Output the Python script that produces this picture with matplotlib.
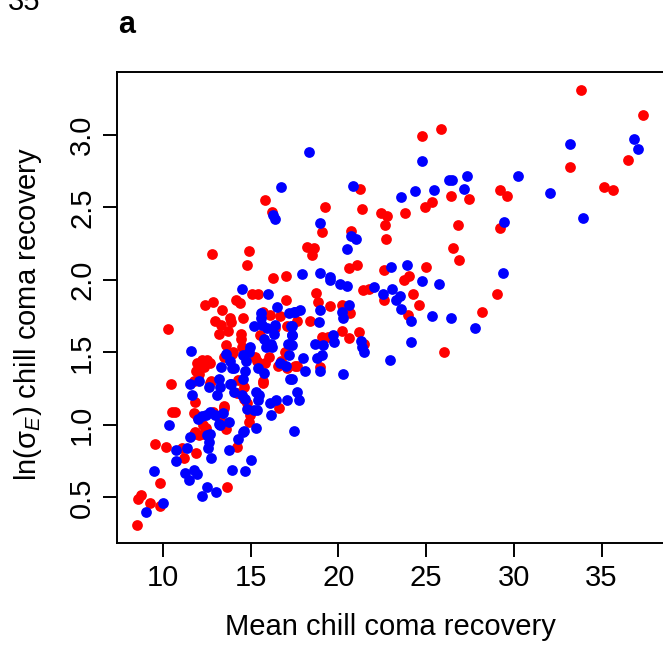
import matplotlib
matplotlib.use("Agg")
import matplotlib.pyplot as plt

plt.rcParams["font.family"] = ["Liberation Sans", "DejaVu Sans"]
plt.rcParams["mathtext.fontset"] = "custom"
plt.rcParams["mathtext.rm"] = "Liberation Sans"
plt.rcParams["mathtext.it"] = "Liberation Sans:italic"

# red group (mean, ln sigma_E)
red_x = [15.80, 16.21, 24.78, 25.83, 26.42, 27.46, 21.23, 25.35, 24.94, 19.22,
         21.35, 22.45, 22.75, 23.80, 22.67, 26.79, 20.70, 19.05, 33.81, 37.38,
         33.19, 36.49, 29.21, 29.61, 35.16, 35.67, 29.20, 29.06, 28.19, 22.71,
         18.19, 18.61, 18.51, 26.52, 26.86, 20.60, 21.08, 22.62, 25.01, 23.72,
         24.04, 21.38, 21.76, 22.58, 24.27, 24.57, 23.99, 18.72, 18.85, 19.54,
         20.19, 20.66, 18.38, 17.66, 20.22, 20.62, 21.19, 21.44, 19.08, 19.42,
         18.95, 17.66, 26.02, 8.52, 8.56, 8.76, 9.24, 9.81, 9.85, 9.52,
         10.19, 10.53, 10.70, 10.44, 11.10, 11.20, 11.88, 11.75, 12.04, 13.65,
         14.24, 11.84, 12.35, 12.43, 11.75, 11.96, 12.28, 12.85, 13.46, 13.27,
         13.59, 11.80, 11.79, 12.70, 13.50, 14.22, 14.62, 14.60, 14.81, 15.70,
         14.94, 14.90, 16.61, 12.81, 14.90, 14.77, 16.29, 17.00, 15.06, 15.44,
         17.01, 12.39, 12.85, 13.38, 14.16, 14.37, 15.68, 16.12, 16.69, 13.82,
         13.88, 12.96, 13.32, 14.58, 10.27, 13.19, 13.71, 16.37, 17.07, 14.43,
         15.55, 14.46, 14.50, 13.59, 13.93, 16.94, 16.03, 15.84, 15.25, 15.34,
         11.92, 12.21, 12.51, 12.66, 11.86, 12.03, 12.32, 13.50, 13.99, 16.54,
         17.07, 16.74, 17.53, 12.75, 14.26, 15.68]
red_y = [2.55, 2.47, 2.99, 3.04, 2.58, 2.56, 2.63, 2.54, 2.50, 2.50,
         2.49, 2.46, 2.44, 2.46, 2.38, 2.38, 2.34, 2.33, 3.31, 3.14,
         2.78, 2.83, 2.62, 2.58, 2.64, 2.62, 2.36, 1.90, 1.78, 2.28,
         2.23, 2.22, 2.17, 2.22, 2.14, 2.08, 2.10, 2.07, 2.09, 2.00,
         2.03, 1.93, 1.94, 1.86, 1.90, 1.83, 1.76, 1.91, 1.85, 1.82,
         1.83, 1.77, 1.72, 1.72, 1.65, 1.60, 1.64, 1.56, 1.61, 1.61,
         1.40, 1.41, 1.50, 0.31, 0.49, 0.52, 0.46, 0.44, 0.60, 0.87,
         0.85, 1.09, 1.09, 1.28, 0.84, 0.77, 0.81, 0.94, 0.93, 0.57,
         0.85, 0.95, 0.94, 0.98, 1.08, 1.06, 1.00, 1.09, 1.12, 1.04,
         0.97, 1.16, 1.30, 1.29, 1.13, 1.22, 1.26, 1.18, 1.15, 1.29,
         1.07, 1.02, 1.12, 2.18, 2.20, 2.10, 2.01, 2.03, 1.90, 1.90,
         1.86, 1.83, 1.85, 1.79, 1.86, 1.84, 1.78, 1.76, 1.75, 1.74,
         1.71, 1.72, 1.69, 1.74, 1.66, 1.63, 1.65, 1.67, 1.68, 1.63,
         1.62, 1.59, 1.54, 1.55, 1.49, 1.50, 1.47, 1.43, 1.47, 1.44,
         1.43, 1.45, 1.45, 1.43, 1.37, 1.35, 1.40, 1.47, 1.50, 1.41,
         1.39, 1.44, 1.41, 1.30, 1.31, 1.30]

# blue group
blue_x = [16.74, 16.25, 16.37, 18.34, 24.77, 26.29, 26.46, 27.33, 27.14, 20.83,
          23.57, 24.35, 25.47, 18.93, 33.22, 36.87, 37.08, 30.22, 32.08, 33.96,
          29.44, 29.40, 27.77, 20.70, 21.00, 20.51, 23.00, 23.91, 24.78, 25.72,
          17.92, 18.93, 19.52, 19.54, 20.07, 20.51, 22.05, 23.07, 22.54, 23.28,
          23.51, 23.55, 24.12, 25.34, 26.44, 18.97, 20.60, 20.22, 20.26, 18.89,
          17.81, 17.53, 17.34, 21.27, 21.35, 21.44, 19.69, 19.73, 18.65, 19.14,
          18.80, 19.08, 17.96, 18.08, 18.97, 20.28, 17.34, 22.92, 24.12, 17.37,
          17.34, 17.66, 17.75, 17.49, 9.03, 10.02, 9.50, 10.33, 10.74, 10.76,
          11.39, 11.54, 11.24, 11.48, 11.78, 11.96, 12.21, 12.53, 13.02, 13.93,
          14.68, 15.00, 12.74, 13.74, 14.26, 14.56, 12.58, 12.61, 12.51, 12.68,
          12.01, 12.21, 12.45, 12.66, 12.98, 13.18, 13.42, 13.27, 13.74, 11.63,
          11.55, 12.04, 12.64, 13.08, 13.27, 13.89, 14.03, 14.50, 14.69, 15.32,
          15.49, 15.40, 14.79, 15.17, 15.34, 15.32, 14.62, 16.12, 16.46, 16.17,
          17.07, 14.52, 15.99, 16.50, 17.16, 17.48, 15.59, 15.59, 15.17, 15.66,
          15.95, 16.37, 16.33, 17.30, 17.35, 15.76, 16.16, 15.86, 16.19, 11.60,
          13.57, 14.98, 14.89, 17.14, 17.20, 14.56, 14.75, 14.69, 13.32, 13.84,
          13.93, 14.03, 15.42, 15.76, 16.65, 17.00, 17.24, 13.21, 13.84, 14.56]
blue_y = [2.64, 2.45, 2.42, 2.88, 2.82, 2.69, 2.69, 2.72, 2.63, 2.65,
          2.57, 2.61, 2.62, 2.39, 2.94, 2.97, 2.90, 2.72, 2.60, 2.43,
          2.40, 2.05, 1.67, 2.30, 2.28, 2.21, 2.09, 2.10, 1.99, 1.97,
          2.04, 2.05, 2.02, 2.00, 1.97, 1.96, 1.95, 1.94, 1.90, 1.86,
          1.89, 1.80, 1.72, 1.75, 1.74, 1.79, 1.83, 1.78, 1.74, 1.71,
          1.79, 1.78, 1.68, 1.58, 1.54, 1.50, 1.62, 1.57, 1.56, 1.55,
          1.46, 1.48, 1.46, 1.37, 1.37, 1.35, 1.32, 1.45, 1.57, 1.62,
          1.55, 1.23, 1.17, 0.96, 0.40, 0.46, 0.68, 1.00, 0.83, 0.75,
          0.84, 0.92, 0.67, 0.62, 0.69, 0.66, 0.51, 0.57, 0.54, 0.69,
          0.68, 0.76, 0.77, 0.83, 0.90, 0.95, 0.84, 0.88, 0.93, 0.94,
          1.04, 1.06, 1.07, 1.09, 1.07, 1.01, 1.08, 1.00, 1.02, 1.21,
          1.28, 1.30, 1.26, 1.21, 1.26, 1.28, 1.23, 1.21, 1.18, 1.23,
          1.21, 1.17, 1.11, 1.10, 1.10, 0.98, 0.96, 1.15, 1.17, 1.07,
          1.17, 1.94, 1.90, 1.81, 1.77, 1.78, 1.77, 1.74, 1.68, 1.69,
          1.67, 1.69, 1.63, 1.68, 1.62, 1.59, 1.56, 1.54, 1.54, 1.51,
          1.49, 1.54, 1.50, 1.56, 1.48, 1.48, 1.44, 1.37, 1.40, 1.44,
          1.39, 1.39, 1.39, 1.36, 1.43, 1.41, 1.32, 1.32, 1.28, 1.32]

x_ticks = [10, 15, 20, 25, 30, 35]
y_ticks = [0.5, 1.0, 1.5, 2.0, 2.5, 3.0]
y_tick_labels = ["0.5", "1.0", "1.5", "2.0", "2.5", "3.0"]

W, H = 663, 645
fig = plt.figure(figsize=(W / 100, H / 100), dpi=100)
ax = fig.add_axes([117 / W, (H - 543) / H, 547 / W, 471 / H])

ax.scatter(red_x, red_y, s=60, color="#FF0000", linewidths=0, zorder=2)
ax.scatter(blue_x, blue_y, s=60, color="#0000FF", linewidths=0, zorder=3)

ax.set_xlim(7.38, 38.56)
ax.set_ylim(0.186, 3.434)
ax.set_xticks(x_ticks)
ax.set_yticks(y_ticks)
ax.set_yticklabels(y_tick_labels, rotation=90, va="center")

for sp in ax.spines.values():
    sp.set_linewidth(1.4)
ax.tick_params(length=10, width=1.4, labelsize=21, pad=5)

fig.text(390 / W, 1 - 627 / H, "Mean chill coma recovery", fontsize=21,
         ha="center", va="center")
fig.text(28 / W, 1 - 314 / H, r"ln(σ$_{E}$) chill coma recovery",
         fontsize=21, ha="center", va="center", rotation=90)
fig.text(118 / W, 1 - 33 / H, "a", fontsize=22, fontweight="bold",
         ha="left", va="baseline")
# fragment of the neighbouring panel's label, cut at the top edge
fig.text(8 / W, 1 - 10 / H, "35", fontsize=21, ha="left", va="baseline")

fig.savefig("out.png", dpi=100)
